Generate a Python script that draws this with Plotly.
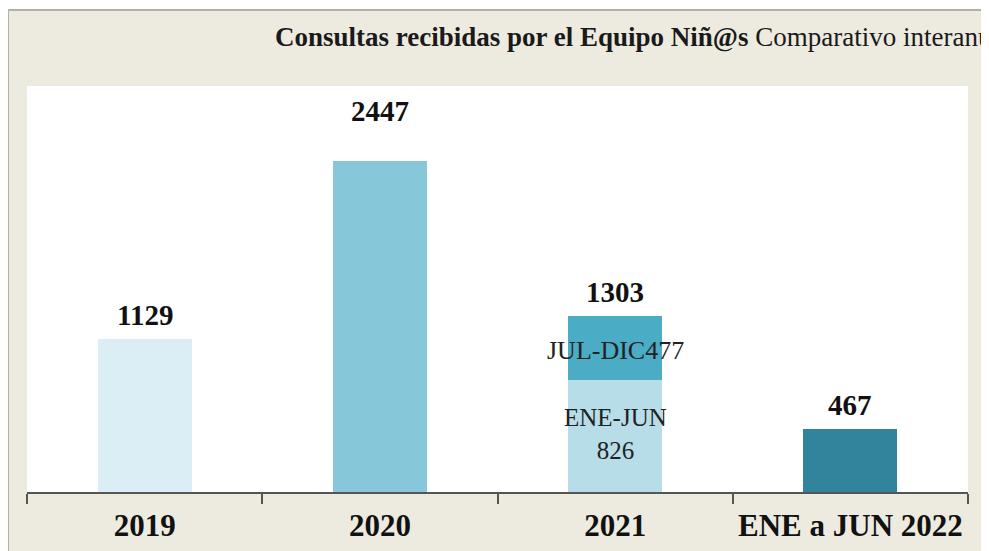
import plotly.graph_objects as go

categories = ["2019", "2020", "2021", "ENE a JUN 2022"]
totals = [1129, 2447, 1303, 467]
base_values = [1129, 2447, 826, 467]        # 2021 -> ENE-JUN part
second_values = [0, 0, 477, 0]              # 2021 -> JUL-DIC part
seg_labels_2021 = ["ENE-JUN<br>826", "JUL-DIC477"]

base_colors = ["#DCEEF5", "#86C7D9", "#B6DDE8", "#31849B"]
second_color = "#4BACC6"
label_yshift = [6, 32, 6, 6]

FONT = "Liberation Serif"
BEIGE = "#EDEBE0"

# page body has an 8px margin -> design in page coordinates minus 8
OFF = 8

fig = go.Figure()
fig.add_trace(go.Bar(x=categories, y=base_values, marker=dict(color=base_colors, line=dict(width=0)),
                     width=0.4, hoverinfo="skip", showlegend=False))
fig.add_trace(go.Bar(x=categories, y=second_values, marker=dict(color=second_color, line=dict(width=0)),
                     width=0.4, hoverinfo="skip", showlegend=False))

annotations = []
for i, (t, ys) in enumerate(zip(totals, label_yshift)):
    annotations.append(dict(x=i, y=t, xref="x", yref="y", text="<b>%d</b>" % t, showarrow=False,
                            yanchor="bottom", yshift=ys,
                            font=dict(family=FONT, size=29, color="#111111")))
annotations.append(dict(x=2, y=base_values[2] / 2, xref="x", yref="y", text=seg_labels_2021[0],
                        showarrow=False, yanchor="middle", yshift=2,
                        font=dict(family=FONT, size=25, color="#222222")))
annotations.append(dict(x=2, y=base_values[2] + second_values[2] / 2, xref="x", yref="y",
                        text=seg_labels_2021[1], showarrow=False, yanchor="middle", yshift=-3,
                        font=dict(family=FONT, size=26, color="#222222")))
annotations.append(dict(x=(273 - 27) / 941, y=(492 - 37) / 406, xref="paper", yref="paper",
                        xanchor="left", yanchor="middle", showarrow=False,
                        text="<b>Consultas recibidas por el Equipo Niñ@s</b> Comparativo interanual",
                        font=dict(family=FONT, size=27, color="#1a1a1a")))

yt = (492 - 10) / 406
xl = (8 - 27) / 941
xr = (986 - 27) / 941
shapes = [
    dict(type="rect", xref="paper", yref="paper", x0=-0.1, x1=1.1, y0=yt, y1=1.4,
         fillcolor="white", line=dict(width=0)),
    dict(type="rect", xref="paper", yref="paper", x0=-0.1, x1=xl, y0=-0.4, y1=1.4,
         fillcolor="white", line=dict(width=0)),
    dict(type="rect", xref="paper", yref="paper", x0=xr, x1=1.1, y0=-0.4, y1=1.4,
         fillcolor="white", line=dict(width=0)),
    dict(type="line", xref="paper", yref="paper", x0=xl, x1=xr, y0=yt, y1=yt,
         line=dict(color="#B3B0AA", width=2)),
    dict(type="line", xref="paper", yref="paper", x0=xl, x1=xl, y0=-0.4, y1=yt,
         line=dict(color="#B3B0AA", width=2)),
    dict(type="line", xref="paper", yref="paper", x0=xr, x1=xr, y0=-0.4, y1=yt,
         line=dict(color="#B3B0AA", width=2)),
]

fig.update_layout(
    width=989, height=551,
    margin=dict(l=27 - OFF, r=989 - (968 - OFF), t=86 - OFF, b=551 - (492 - OFF), autoexpand=False),
    paper_bgcolor=BEIGE, plot_bgcolor="white",
    barmode="stack",
    annotations=annotations, shapes=shapes,
    xaxis=dict(type="category", range=[-0.5, 3.5], autorange=False, showline=True,
               linecolor="#555555", linewidth=2,
               ticks="outside", tickson="boundaries", ticklen=10, tickwidth=1.5, tickcolor="#555555",
               showgrid=False, tickangle=0, ticklabelstandoff=5,
               tickfont=dict(family=FONT, size=31, color="#111111", weight="bold"),
               fixedrange=True),
    yaxis=dict(range=[0, 3000], autorange=False, visible=False, showgrid=False, fixedrange=True),
)

fig.write_html("out.html")
